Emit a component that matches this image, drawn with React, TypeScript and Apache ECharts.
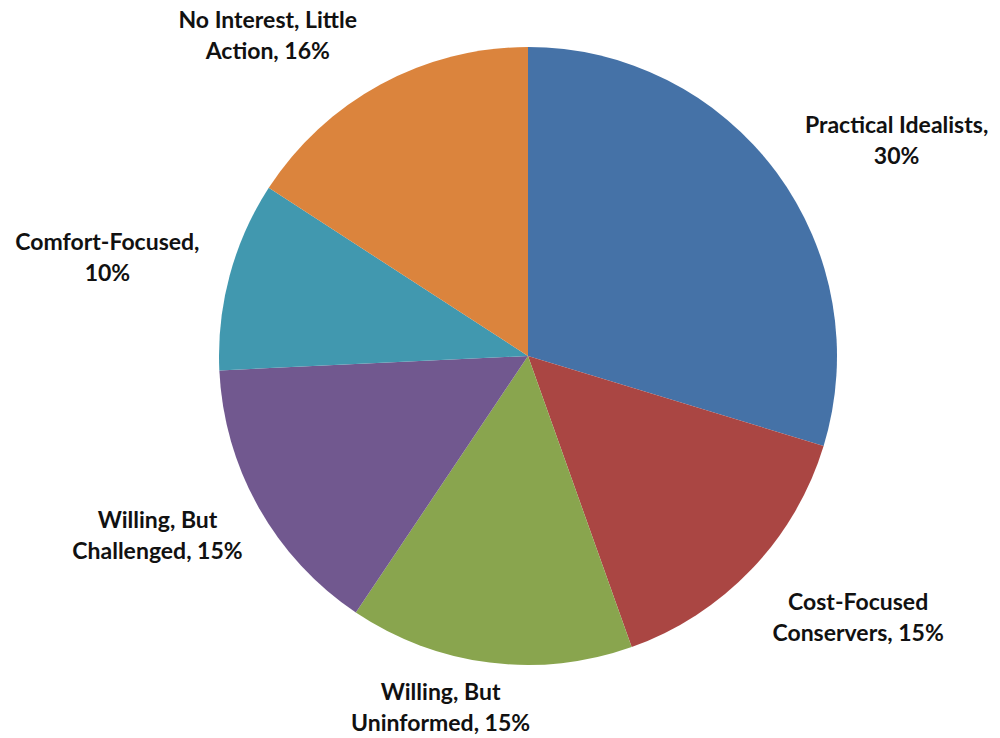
import React, { useEffect, useRef } from "react";
import * as echarts from "echarts";

const categories = [
  "Practical Idealists",
  "Cost-Focused\nConservers",
  "Willing, But\nUninformed",
  "Willing, But\nChallenged",
  "Comfort-Focused",
  "No Interest, Little\nAction",
];
const values = [30, 15, 15, 15, 10, 16];
const colors = ["#4572A7", "#AA4643", "#89A54E", "#71588F", "#4198AF", "#DB843D"];

// layout constants (label fine-tuning, in pixels)
const CX = 528;
const CY = 356;
const R = 309;
const GAP = 22;
const K = 3;
const NUDGE_X = [11, 5, -13, 3, -9, -13];
const NUDGE_Y = [12, 1, -9, -15, 11, 0];

export default function App() {
  const ref = useRef<HTMLDivElement>(null);
  useEffect(() => {
    if (!ref.current) return;
    const chart = echarts.init(ref.current, null, { renderer: "svg" });
    const total = values.reduce((a, b) => a + b, 0);
    const mids: number[] = [];
    let cum = 0;
    values.forEach((v) => {
      mids.push(((cum + v / 2) / total) * Math.PI * 2);
      cum += v;
    });
    chart.setOption({
      animation: false,
      backgroundColor: "#ffffff",
      series: [
        {
          type: "pie",
          center: [CX, CY],
          radius: [0, R],
          startAngle: 90,
          clockwise: true,
          data: categories.map((name, i) => ({
            name,
            value: values[i],
            itemStyle: { color: colors[i] },
          })),
          itemStyle: { borderWidth: 0 },
          label: {
            show: true,
            position: "outside",
            overflow: "none",
            formatter: (p: any) =>
              p.name.indexOf("\n") >= 0
                ? `${p.name}, ${p.value}%`
                : `${p.name},\n${p.value}%`,
            fontFamily: "Lato, 'Open Sans', sans-serif",
            fontWeight: "bold",
            fontSize: 23,
            lineHeight: 31,
            color: "#111111",
            align: "center",
          },
          labelLine: { show: false },
          labelLayout: (p: any) => {
            const i = p.dataIndex;
            const th = mids[i];
            const s = Math.sin(th);
            const c = Math.cos(th);
            const w = p.labelRect.width;
            const h = p.labelRect.height;
            const ex = CX + (R + GAP) * s;
            const ey = CY - (R + GAP) * c;
            const fx = Math.max(-1, Math.min(1, s * K));
            const fy = Math.max(-1, Math.min(1, c * K));
            return {
              x: ex + (fx * w) / 2 + NUDGE_X[i],
              y: ey - (fy * h) / 2 + NUDGE_Y[i],
              align: "center",
              verticalAlign: "middle",
            };
          },
        },
      ],
    });
    return () => chart.dispose();
  }, []);
  return (
    <div
      ref={ref}
      style={{ position: "fixed", left: 0, top: 0, width: 1000, height: 738, background: "#fff" }}
    />
  );
}
